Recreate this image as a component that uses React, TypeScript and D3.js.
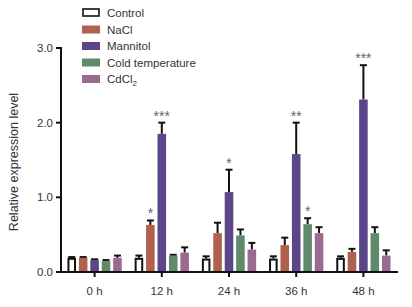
import React from "react";
import * as d3 from "d3";

const groups = ["0 h", "12 h", "24 h", "36 h", "48 h"];
const seriesNames = ["Control", "NaCl", "Mannitol", "Cold temperature", "CdCl2"];
const seriesColors = ["#ffffff", "#b0614d", "#5a4689", "#5f8a6b", "#9c6a8e"];

const controlVals = [0.19, 0.19, 0.18, 0.18, 0.19];
const controlErr = [0.01, 0.03, 0.03, 0.03, 0.02];
const naclVals = [0.19, 0.63, 0.52, 0.36, 0.27];
const naclErr = [0.01, 0.06, 0.14, 0.1, 0.04];
const mannitolVals = [0.16, 1.85, 1.07, 1.58, 2.31];
const mannitolErr = [0.01, 0.15, 0.3, 0.42, 0.46];
const coldVals = [0.15, 0.22, 0.49, 0.64, 0.52];
const coldErr = [0.01, 0.01, 0.08, 0.08, 0.08];
const cdVals = [0.19, 0.26, 0.3, 0.52, 0.22];
const cdErr = [0.03, 0.07, 0.09, 0.08, 0.07];

const naclSig = ["", "*", "", "", ""];
const mannitolSig = ["", "***", "*", "**", "***"];
const coldSig = ["", "", "", "*", ""];
const controlSig = ["", "", "", "", ""];
const cdSig = ["", "", "", "", ""];

const yTicks = [0, 1, 2, 3];

const values = [controlVals, naclVals, mannitolVals, coldVals, cdVals];
const errors = [controlErr, naclErr, mannitolErr, coldErr, cdErr];
const sigs = [controlSig, naclSig, mannitolSig, coldSig, cdSig];

export default function App() {
  const W = 412;
  const H = 307;
  const x0 = d3.scaleBand<string>().domain(groups).range([61, 397]).padding(0);
  const y = d3.scaleLinear().domain([0, 3]).range([272, 48]);
  const inner = d3
    .scaleBand<string>()
    .domain(seriesNames)
    .range([-30, 30])
    .padding(0.25);
  const font = "Liberation Sans, Arial, Helvetica, sans-serif";

  return (
    <svg
      width={W}
      height={H}
      style={{ position: "absolute", left: 0, top: 0, background: "#fff" }}
      fontFamily={font}
    >
      {/* bars */}
      {groups.map((g, gi) => {
        const cx = (x0(g) as number) + x0.bandwidth() / 2;
        return (
          <g key={g}>
            {seriesNames.map((s, si) => {
              const v = values[si][gi];
              const e = errors[si][gi];
              const bx = cx + (inner(s) as number);
              const bw = inner.bandwidth();
              const isCtrl = si === 0;
              const top = y(v);
              const errTop = y(v + e);
              const mid = bx + bw / 2;
              return (
                <g key={s}>
                  <line x1={mid} x2={mid} y1={top} y2={errTop} stroke="#111" strokeWidth={2} />
                  <line x1={mid - 3.5} x2={mid + 3.5} y1={errTop} y2={errTop} stroke="#111" strokeWidth={2} />
                  <rect
                    x={isCtrl ? bx + 1 : bx}
                    y={isCtrl ? top + 1 : top}
                    width={isCtrl ? bw - 2 : bw}
                    height={isCtrl ? y(0) - top - 1 : y(0) - top}
                    fill={seriesColors[si]}
                    stroke={isCtrl ? "#111" : "none"}
                    strokeWidth={2}
                  />
                  {sigs[si][gi] && (
                    <text
                      x={mid}
                      y={errTop - 2}
                      textAnchor="middle"
                      fontSize={14}
                      fill="#666"
                    >
                      {sigs[si][gi]}
                    </text>
                  )}
                </g>
              );
            })}
          </g>
        );
      })}

      {/* y axis */}
      <line x1={61} x2={61} y1={y(3) - 1} y2={y(0) + 1} stroke="#111" strokeWidth={2} />
      {yTicks.map((t) => (
        <g key={t}>
          <line x1={56} x2={61} y1={y(t)} y2={y(t)} stroke="#111" strokeWidth={2} />
          <text x={53} y={y(t) + 4} textAnchor="end" fontSize={11.5} fill="#333">
            {t.toFixed(1)}
          </text>
        </g>
      ))}
      <text
        transform={`translate(18,${(y(0) + y(3)) / 2 + 2}) rotate(-90)`}
        textAnchor="middle"
        fontSize={12.5}
        fill="#333"
      >
        Relative expression level
      </text>

      {/* x axis */}
      <line x1={60} x2={398} y1={y(0)} y2={y(0)} stroke="#111" strokeWidth={2} />
      {groups.map((g) => {
        const cx = (x0(g) as number) + x0.bandwidth() / 2;
        return (
          <g key={g}>
            <line x1={cx} x2={cx} y1={y(0)} y2={y(0) + 5} stroke="#111" strokeWidth={2} />
            <text x={cx} y={y(0) + 23} textAnchor="middle" fontSize={11.5} fill="#333">
              {g}
            </text>
          </g>
        );
      })}

      {/* legend */}
      {seriesNames.map((s, i) => {
        const ly = 13 + i * 16.5;
        return (
          <g key={s}>
            <rect
              x={i === 0 ? 83 : 82}
              y={ly - 4}
              width={i === 0 ? 16 : 18}
              height={i === 0 ? 7 : 8}
              fill={seriesColors[i]}
              stroke={i === 0 ? "#111" : "none"}
              strokeWidth={1.6}
            />
            <text x={107} y={ly + 4} fontSize={11.5} fill="#333">
              {s === "CdCl2" ? (
                <>
                  CdCl<tspan fontSize={8} dy={3}>2</tspan>
                </>
              ) : (
                s
              )}
            </text>
          </g>
        );
      })}
    </svg>
  );
}
